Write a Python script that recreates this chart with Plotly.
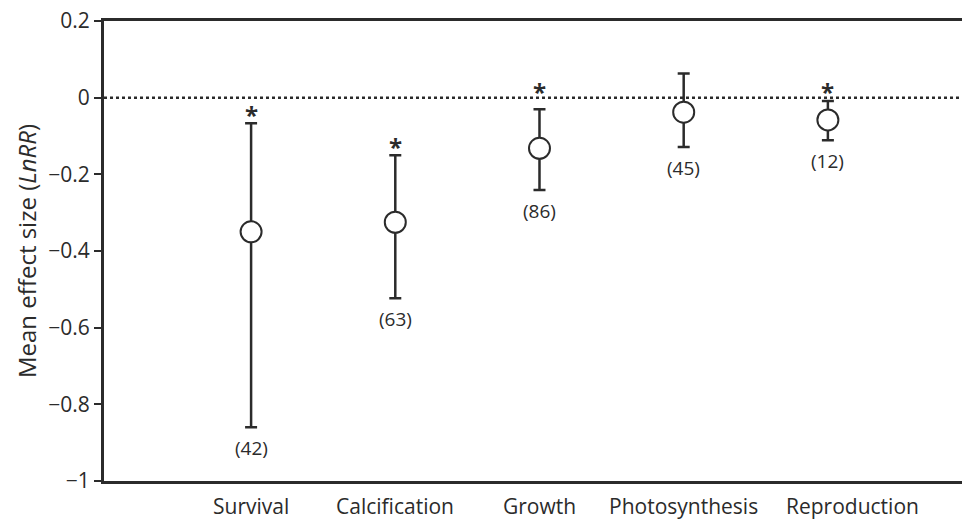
import plotly.graph_objects as go

categories = ["Survival", "Calcification", "Growth", "Photosynthesis", "Reproduction"]
mean_effect = [-0.35, -0.325, -0.132, -0.038, -0.058]
ci_upper = [-0.067, -0.15, -0.03, 0.063, -0.009]
ci_lower = [-0.86, -0.523, -0.241, -0.129, -0.111]
n_labels = ["(42)", "(63)", "(86)", "(45)", "(12)"]
significant = [True, True, True, False, True]
y_ticks = [0.2, 0, -0.2, -0.4, -0.6, -0.8, -1]

idx = list(range(len(categories)))
err_plus = [u - m for u, m in zip(ci_upper, mean_effect)]
err_minus = [m - l for m, l in zip(mean_effect, ci_lower)]

dark = "#2b2b2b"
font_family = "Open Sans, Noto Sans, sans-serif"

fig = go.Figure()
fig.add_trace(go.Scatter(
    x=idx, y=mean_effect, mode="markers",
    marker=dict(symbol="circle", size=21, color="white",
                line=dict(color=dark, width=2)),
    error_y=dict(type="data", symmetric=False, array=err_plus,
                 arrayminus=err_minus, color=dark, thickness=2.5, width=6),
    showlegend=False, hoverinfo="skip",
))

# dotted zero line
fig.add_shape(type="line", xref="paper", yref="y", x0=0, x1=1, y0=0, y1=0,
              line=dict(color=dark, width=2.5, dash="dot"), layer="below")

annotations = []
for i, cat in enumerate(categories):
    annotations.append(dict(x=i, y=ci_lower[i], xref="x", yref="y", text=n_labels[i],
                            showarrow=False, yanchor="top", yshift=-6,
                            font=dict(size=19, color=dark, family=font_family)))
    if significant[i]:
        # asterisks that would collide with the zero line are lifted above it
        near_zero = ci_upper[i] > -0.05
        annotations.append(dict(x=i, y=0 if near_zero else ci_upper[i],
                                xref="x", yref="y", text="<b>*</b>",
                                showarrow=False, yanchor="bottom",
                                yshift=-12 if near_zero else -10,
                                font=dict(size=24, color=dark, family=font_family)))
    annotations.append(dict(x=i, y=0, xref="x", yref="paper", text=cat,
                            showarrow=False, yanchor="middle", yshift=-25,
                            xshift=25 if cat == "Reproduction" else 0,
                            font=dict(size=21, color=dark, family=font_family)))

fig.update_layout(
    width=962, height=522,
    margin=dict(l=104, r=0, t=21, b=41),
    paper_bgcolor="white", plot_bgcolor="white",
    annotations=annotations,
    font=dict(family=font_family, color=dark),
    xaxis=dict(range=[-1.02, 4.93], showgrid=False, zeroline=False,
               showticklabels=False, ticks="",
               showline=True, mirror=True, linecolor=dark, linewidth=3),
    yaxis=dict(range=[-1, 0.2], tickvals=y_ticks, showgrid=False, zeroline=False,
               ticks="outside", ticklen=7, tickwidth=2, tickcolor=dark,
               showline=True, linecolor=dark, linewidth=3,
               tickfont=dict(size=21, color=dark, family=font_family),
               title=dict(text="Mean effect size (<i>LnRR</i>)", standoff=5,
                          font=dict(size=24, color=dark, family=font_family))),
)

fig.write_html("out.html")
